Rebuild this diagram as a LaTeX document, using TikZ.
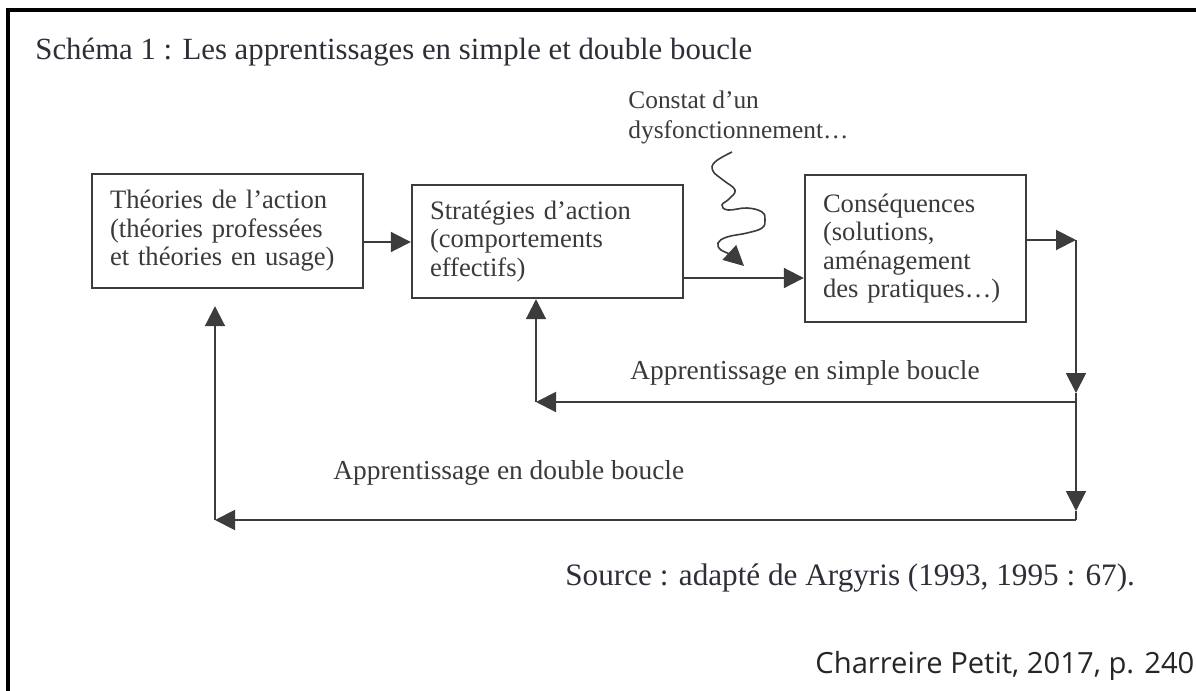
\documentclass[tikz,border=0pt]{standalone}
\usepackage{fontspec}
\setmainfont{Liberation Serif}
\newfontfamily\srcfont{Open Sans}
\usetikzlibrary{arrows.meta}
\hyphenpenalty=10000
\exhyphenpenalty=10000
\definecolor{txt}{HTML}{3A3A3A}
\definecolor{ttl}{HTML}{2E2E38}
\definecolor{ln}{HTML}{3C3C3C}
\tikzset{
  box/.style={draw=ln, line width=1.2pt, rectangle, align=left, inner xsep=9pt,
    font=\fontsize{13.3}{14.2}\selectfont, text=txt},
  arr/.style={draw=ln, line width=1pt, -{Triangle[length=10pt,width=10pt]}},
  plain/.style={draw=ln, line width=1pt},
  lbl/.style={font=\fontsize{13.7}{15}\selectfont, text=txt, inner sep=0pt, anchor=base west},
}
\begin{document}
\begin{tikzpicture}[x=0.5pt,y=-0.5pt]
\useasboundingbox (0,0) rectangle (1196,691);
% frame
\coordinate (fa) at (8,691);
\coordinate (fb) at (8,10);
\coordinate (fc) at (1196,10);
\draw[black, line width=1.6pt] (fa) -- (fb) -- (fc);
% title
\node[lbl, font=\fontsize{15.4}{16}\selectfont, text=ttl] (title) at (35,59) {Schéma 1 : Les apprentissages en simple et double boucle};
% boxes
\node[box, text width=117.5pt, minimum height=57pt] (b1) at (227.5,231) {Théories de l’action\\(théories professées\\et théories en usage)};
\node[box, text width=117.5pt, minimum height=56.5pt] (b2) at (547.5,241.5) {Stratégies d’action\\(comportements\\effectifs)};
\node[box, text width=92.5pt, minimum height=73.5pt] (b3) at (915.5,248.5) {Conséquences\\(solutions,\\aménagement\\des pratiques…)};
% constat
\node[lbl, align=left, anchor=north west, font=\fontsize{12.7}{15}\selectfont] (constat) at (628,90) {Constat d’un\\dysfonctionnement…};
% helper coordinates
\coordinate (y242) at (0,242);
\coordinate (y278) at (0,278);
\coordinate (cR) at (1076,240);
\coordinate (aS) at (1076,393);
\coordinate (jS) at (1076,402);
\coordinate (aD) at (1076,511);
\coordinate (jD) at (1076,520);
\coordinate (cS) at (536,402);
\coordinate (cD) at (215,520);
\coordinate (sq) at (732,152);
% forward arrows
\draw[arr] (b1.east |- y242) -- (b2.west |- y242);
\draw[arr] (b2.east |- y278) -- (b3.west |- y278);
\draw[arr] (b3.east |- cR) -- (cR);
\draw[arr] (cR) -- (aS);
\draw[plain] (aS) -- (jS);
\draw[arr] (jS) -- (aD);
\draw[plain] (aD) -- (jD);
% simple loop
\draw[arr] (jS) -- (cS);
\draw[arr] (cS) -- (b2.south -| cS);
% double loop
\draw[arr] (jD) -- (cD);
\draw[arr] (cD) -- ([yshift=-8.5pt]b1.south -| cD);
% squiggle
\draw[draw=ln, line width=0.8pt, -{Triangle[length=10pt,width=10pt]}] plot[smooth, tension=0.7] coordinates {(sq) (715,162) (713,171) (723,180) (735,190) (729,199) (722,205) (728,210) (747,208) (762,212) (765,220) (762,228) (747,233) (727,237) (718,243) (721,250) (731,255) (744,266)};
% loop labels
\node[lbl] (ls) at (630,379) {Apprentissage en simple boucle};
\node[lbl] (ld) at (333,479) {Apprentissage en double boucle};
% source
\node[lbl, font=\fontsize{15.6}{16}\selectfont, text=ttl] (src) at (565,585) {Source : adapté de Argyris (1993, 1995 : 67).};
\node[lbl, font=\srcfont\fontsize{14.6}{16}\selectfont, text=black!85] (cite) at (815,673) {Charreire Petit, 2017, p. 240};
\end{tikzpicture}
\end{document}
